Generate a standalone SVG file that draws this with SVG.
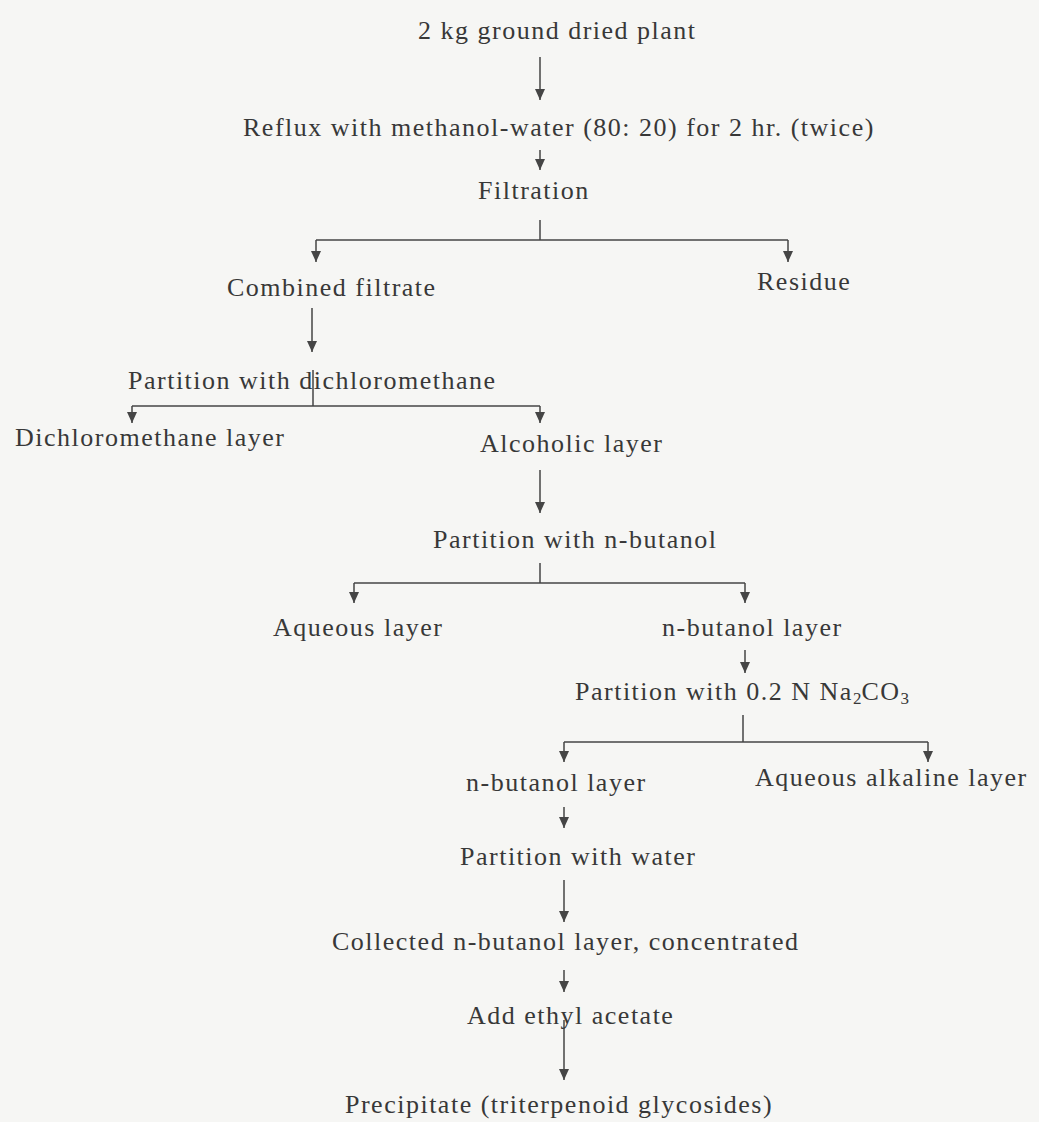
<svg xmlns="http://www.w3.org/2000/svg" width="1039" height="1122" viewBox="0 0 1039 1122">
<style>
text{font-family:"Liberation Serif","Times New Roman",serif;font-size:26px;letter-spacing:1.5px;fill:#383838}
.c path{fill:none;stroke:#454545;stroke-width:1.5}
.sub{font-size:17px;letter-spacing:0}
</style>
<defs>
<marker id="ah" markerUnits="userSpaceOnUse" markerWidth="11" markerHeight="10" viewBox="0 0 11 10" refX="11" refY="5" orient="auto">
<path d="M0,0 L11,5 L0,10 z" fill="#454545"/>
</marker>
</defs>
<rect width="1039" height="1122" fill="#f6f6f4"/>
<g class="c" id="connectors">
<path d="M540,57 V100" marker-end="url(#ah)"/>
<path d="M540,150 V170" marker-end="url(#ah)"/>
<path d="M540,220 V240 M316,240 H788"/>
<path d="M316,240 V262" marker-end="url(#ah)"/>
<path d="M788,240 V262" marker-end="url(#ah)"/>
<path d="M312,308 V352" marker-end="url(#ah)"/>
<path d="M313,370 V406 M132,406 H540"/>
<path d="M132,406 V423" marker-end="url(#ah)"/>
<path d="M540,406 V423" marker-end="url(#ah)"/>
<path d="M540,470 V513" marker-end="url(#ah)"/>
<path d="M540,563 V583 M354,583 H745"/>
<path d="M354,583 V603" marker-end="url(#ah)"/>
<path d="M745,583 V603" marker-end="url(#ah)"/>
<path d="M745,650 V673" marker-end="url(#ah)"/>
<path d="M743,715 V742 M564,742 H928"/>
<path d="M564,742 V762" marker-end="url(#ah)"/>
<path d="M928,742 V762" marker-end="url(#ah)"/>
<path d="M564,807 V828" marker-end="url(#ah)"/>
<path d="M564,880 V922" marker-end="url(#ah)"/>
<path d="M564,970 V992" marker-end="url(#ah)"/>
<path d="M564,1020 V1080" marker-end="url(#ah)"/>
</g>
<g id="n1"><text x="418" y="39">2 kg ground dried plant</text></g>
<g id="n2"><text x="243" y="136">Reflux with methanol-water (80: 20) for 2 hr. (twice)</text></g>
<g id="n3"><text x="478" y="199">Filtration</text></g>
<g id="n4"><text x="227" y="296">Combined filtrate</text></g>
<g id="n5"><text x="757" y="290">Residue</text></g>
<g id="n6"><text x="128" y="389">Partition with dichloromethane</text></g>
<g id="n7"><text x="15" y="446">Dichloromethane layer</text></g>
<g id="n8"><text x="480" y="452">Alcoholic layer</text></g>
<g id="n9"><text x="433" y="548">Partition with n-butanol</text></g>
<g id="n10"><text x="273" y="636">Aqueous layer</text></g>
<g id="n11"><text x="662" y="636">n-butanol layer</text></g>
<g id="n12"><text x="575" y="700">Partition with 0.2 N Na<tspan class="sub" dy="4">2</tspan><tspan dy="-4">CO</tspan><tspan class="sub" dy="4">3</tspan></text></g>
<g id="n13"><text x="466" y="791">n-butanol layer</text></g>
<g id="n14"><text x="755" y="786">Aqueous alkaline layer</text></g>
<g id="n15"><text x="460" y="865">Partition with water</text></g>
<g id="n16"><text x="332" y="950">Collected n-butanol layer, concentrated</text></g>
<g id="n17"><text x="467" y="1024">Add ethyl acetate</text></g>
<g id="n18"><text x="345" y="1113">Precipitate (triterpenoid glycosides)</text></g>
</svg>
